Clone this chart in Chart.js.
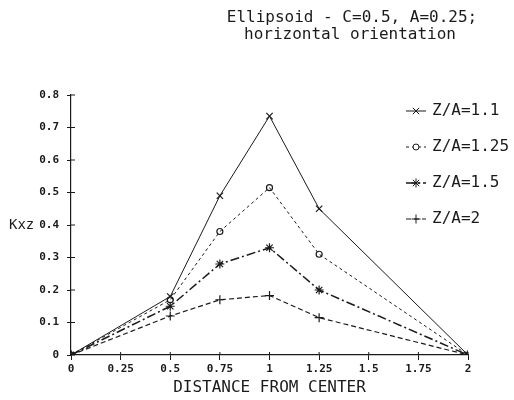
<!DOCTYPE html>
<html>
<head>
<meta charset="utf-8">
<script src="https://cdn.jsdelivr.net/npm/chart.js@4.4.0/dist/chart.umd.min.js"></script>
<style>
  body { margin: 0; background: #fff; }
  #wrap { width: 514px; height: 400px; }
</style>
</head>
<body>
<div id="wrap"><canvas id="myChart" width="514" height="400"></canvas></div>
<script>
// distance from center (x) and Kxz values
var distance = [0, 0.5, 0.75, 1, 1.25, 2];
var za11 = [0, 0.18, 0.49, 0.735, 0.45, 0];
var za125 = [0, 0.17, 0.38, 0.515, 0.31, 0];
var za15 = [0, 0.15, 0.28, 0.33, 0.20, 0];
var za2 = [0, 0.12, 0.17, 0.183, 0.115, 0];
var seriesLabels = ['Z/A=1.1', 'Z/A=1.25', 'Z/A=1.5', 'Z/A=2'];
var titleLines = ['Ellipsoid - C=0.5, A=0.25;', 'horizontal orientation'];

var ink = '#1a1a1a';
var mono = '"DejaVu Sans Mono", "Liberation Mono", monospace';

function pts(ys) {
    return distance.map(function (x, i) { return { x: x, y: ys[i] }; });
}

function series(label, ys, style, dash, width, r) {
    return {
        label: label,
        data: pts(ys),
        borderColor: ink,
        backgroundColor: 'rgba(0,0,0,0)',
        borderWidth: width,
        borderDash: dash,
        pointStyle: style,
        pointRadius: r,
        pointBorderColor: ink,
        pointBorderWidth: 1.2,
        tension: 0
    };
}

// titles, y label, inner tick halves and the legend box
var decor = {
    id: 'decor',
    afterDraw: function (chart) {
        var c = chart.ctx;
        var xs = chart.scales.x, ys = chart.scales.y;
        c.save();
        c.fillStyle = ink;
        c.font = '16px ' + mono;
        c.textAlign = 'center';
        c.textBaseline = 'middle';
        c.fillText(titleLines[0], 352, 18);
        c.fillText(titleLines[1], 350, 35);

        c.font = '14px ' + mono;
        c.textAlign = 'left';
        c.fillText('Kxz', 9, ys.getPixelForValue(0.4));

        // ticks crossing the axes
        c.strokeStyle = ink;
        c.lineWidth = 1;
        c.beginPath();
        ys.ticks.forEach(function (t) {
            var p = ys.getPixelForValue(t.value);
            c.moveTo(xs.left, p);
            c.lineTo(xs.left + 4, p);
        });
        xs.ticks.forEach(function (t) {
            var p = xs.getPixelForValue(t.value);
            c.moveTo(p, ys.bottom);
            c.lineTo(p, ys.bottom - 3);
        });
        c.stroke();

        // legend
        c.font = '16px ' + mono;
        chart.data.datasets.forEach(function (ds, i) {
            var y = 111 + i * 36;
            c.save();
            c.lineWidth = ds.borderWidth;
            c.setLineDash(ds.borderDash);
            c.beginPath();
            c.moveTo(406, y);
            c.lineTo(426, y);
            c.stroke();
            c.restore();
            c.save();
            c.fillStyle = '#fff';
            Chart.helpers.drawPoint(c, {
                pointStyle: ds.pointStyle,
                radius: ds.pointRadius,
                rotation: 0,
                borderWidth: 1.2
            }, 416, y);
            c.restore();
            c.fillText(ds.label, 432, y);
        });
        c.restore();
    }
};

var ctx = document.getElementById('myChart');

var myChart = new Chart(ctx, {
    type: 'line',
    data: {
        datasets: [
            series(seriesLabels[0], za11, 'crossRot', [], 1, 4.5),
            series(seriesLabels[1], za125, 'circle', [3, 3], 1, 3),
            series(seriesLabels[2], za15, 'star', [9, 3, 2, 3], 1.5, 4.5),
            series(seriesLabels[3], za2, 'cross', [5, 3], 1.2, 4.5)
        ]
    },
    options: {
        responsive: false,
        animation: false,
        layout: { padding: { top: 95, right: 46, left: 0, bottom: 0 } },
        plugins: {
            legend: { display: false },
            tooltip: { enabled: false }
        },
        scales: {
            x: {
                type: 'linear',
                min: 0,
                max: 2,
                ticks: {
                    stepSize: 0.25,
                    color: ink,
                    padding: 3,
                    font: { family: mono, size: 11, weight: 'bold' },
                    callback: function (v) { return String(+v.toFixed(2)); }
                },
                grid: { drawOnChartArea: false, tickLength: 5, color: ink },
                border: { color: ink, width: 1.2 },
                title: {
                    display: true,
                    text: 'DISTANCE FROM CENTER',
                    color: ink,
                    padding: { top: 0, bottom: 3 },
                    font: { family: mono, size: 16 }
                },
                afterFit: function (s) { s.height = 45; }
            },
            y: {
                min: 0,
                max: 0.8,
                ticks: {
                    stepSize: 0.1,
                    color: ink,
                    padding: 8,
                    font: { family: mono, size: 11, weight: 'bold' },
                    callback: function (v) { return String(+v.toFixed(1)); }
                },
                grid: { drawOnChartArea: false, tickLength: 4, color: ink },
                border: { color: ink, width: 1.2 },
                afterFit: function (s) { s.width = 71; }
            }
        }
    },
    plugins: [decor]
});
</script>
</body>
</html>
